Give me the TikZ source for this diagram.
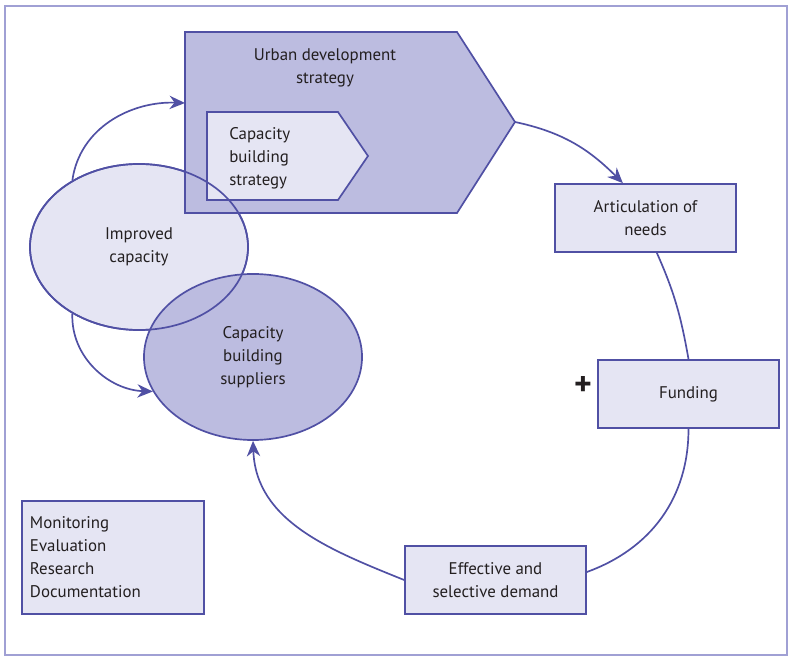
\documentclass[tikz,border=0pt]{standalone}
\usepackage{fontspec}
\setmainfont{PT Sans}
\usetikzlibrary{shapes.geometric,arrows.meta}

\definecolor{cbline}{HTML}{5050A4}
\definecolor{cbdark}{HTML}{BCBCE0}
\definecolor{cblight}{HTML}{E5E5F3}
\definecolor{cbframe}{HTML}{A0A0D4}
\definecolor{cbtext}{HTML}{231F20}

\begin{document}
\begin{tikzpicture}[x=0.025cm,y=0.025cm,
    font=\fontsize{12}{16.3}\selectfont,text=cbtext,
    link/.style={draw=cbline,line width=1.2pt},
    arr/.style={link,-{Stealth[length=11pt,width=9.5pt]}},
    box/.style={link,fill=cblight,minimum width=\boxwidth cm,minimum height=\boxheight cm,align=center,inner sep=2pt},
    blob/.style={ellipse,link,inner sep=0pt,minimum width=5.45cm,minimum height=4.15cm,align=center}]
    \pgfmathsetmacro{\boxwidth}{4.525}  % 181px wide boxes
    \pgfmathsetmacro{\boxheight}{1.7}
    \useasboundingbox (0,0) rectangle (790,657);
    \draw[cbframe,line width=1pt] (5,2) rectangle (787,651);

    % improved capacity sits under the strategy arrows
    \node[blob,fill=cblight] (ic) at (139,410) {Improved\\capacity};

    \coordinate (udtip) at (515,535);
    \coordinate (udwest) at (185,554);
    \draw[link,fill=cbdark] (185,625) -- (457,625) -- (udtip) -- (457,444) -- (185,444) -- cycle;
    \draw[link,fill=cblight] (207,545) -- (338,545) -- (368,501) -- (338,457) -- (207,457) -- cycle;
    \node (uds) at (325,589) [align=center] {Urban development\\strategy};
    \node (cbst) at (229,499) [anchor=west,align=left,inner sep=0pt] {Capacity\\building\\strategy};

    \node[blob,fill=cbdark] (cbs) at (253,300) {Capacity\\building\\suppliers};
    % outline of the first ellipse on top again
    \draw[link] (ic.center) ellipse [x radius=2.725cm,y radius=2.075cm];

    \node[box] (art) at (645.5,439) {Articulation of\\needs};
    \node[box] (fund) at (688.5,263) {Funding};
    \node[box] (eff) at (495.5,77) {Effective and\\selective demand};
    \node[box,minimum width=4.55cm,minimum height=2.825cm,align=left,inner xsep=0.2cm,text width=4.15cm] (mer) at (113,99.5)
        {Monitoring\\Evaluation\\Research\\Documentation};
    \node[font=\fontsize{24}{24}\selectfont\bfseries,inner sep=0pt] (plus) at (583,271) {+};

    \draw[arr] (udtip) to[out=-12,in=135] (art.123);
    \draw[link] (art.-72) to[out=-66,in=100] (fund.north);
    \draw[link] (fund.south) to[out=-90,in=20] (eff.5);
    \draw[arr] (eff.west) to[out=158,in=-88] (cbs.south);
    \draw[arr] (ic.135) to[out=82,in=178] (udwest);
    \draw[arr] (ic.225) to[out=-92,in=178] (cbs.199);
\end{tikzpicture}
\end{document}
